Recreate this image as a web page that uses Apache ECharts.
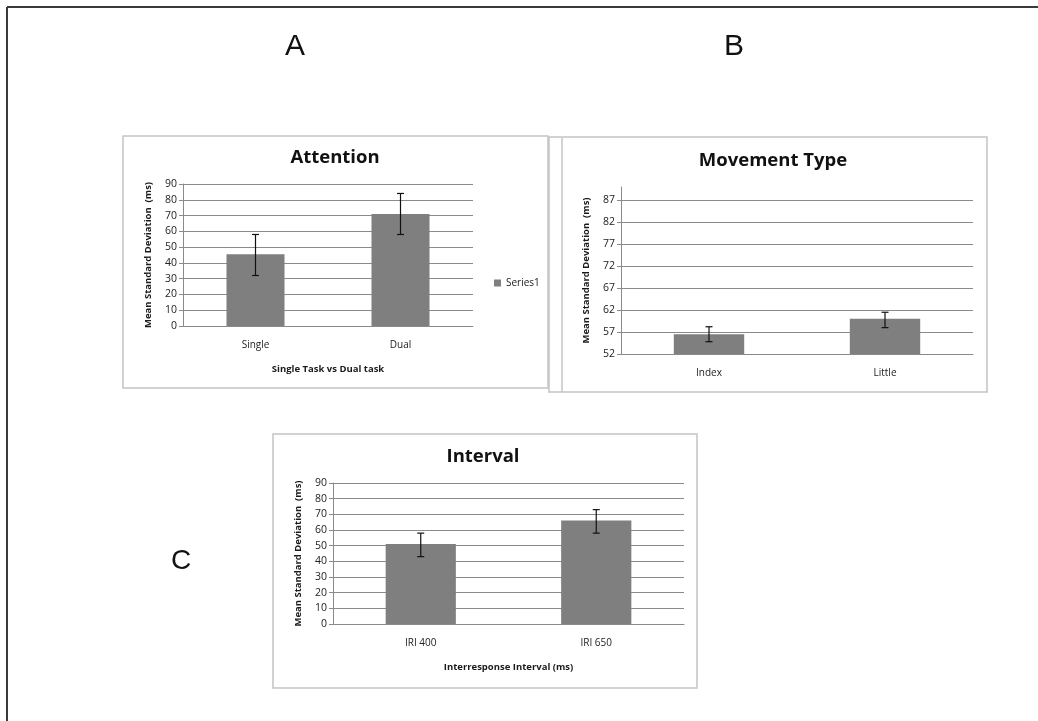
<!DOCTYPE html>
<html>
<head>
<meta charset="utf-8">
<script src="https://cdn.jsdelivr.net/npm/echarts@6/dist/echarts.min.js"></script>
<style>
  html, body { margin: 0; padding: 0; background: #fff; }
  #chart { width: 1038px; height: 721px; }
</style>
</head>
<body>
<div id="chart"></div>
<script>
// values
const attentionCats = ['Single', 'Dual'];
const attentionMeans = [45.5, 71];
const attentionLow = [32, 58];
const attentionHigh = [58, 84];

const movementCats = ['Index', 'Little'];
const movementMeans = [56.5, 60];
const movementLow = [54.8, 58];
const movementHigh = [58.2, 61.5];

const intervalCats = ['IRI 400', 'IRI 650'];
const intervalMeans = [51, 66];
const intervalLow = [43, 58];
const intervalHigh = [58, 73];

const FONT = 'Open Sans';
const GRID_COLOR = '#8a8a8a';
const BAR_COLOR = '#7f7f7f';
const BOX_COLOR = '#c4c4c4';

const chart = echarts.init(document.getElementById('chart'));

function errorBar(params, api) {
	const x = api.value(0);
	const lo = api.coord([x, api.value(1)]);
	const hi = api.coord([x, api.value(2)]);
	const cap = 3.5;
	const style = {stroke: '#111', lineWidth: 1.2};
	return {
		type: 'group',
		children: [
			{type: 'line', shape: {x1: lo[0], y1: lo[1], x2: hi[0], y2: hi[1]}, style},
			{type: 'line', shape: {x1: hi[0] - cap, y1: hi[1], x2: hi[0] + cap, y2: hi[1]}, style},
			{type: 'line', shape: {x1: lo[0] - cap, y1: lo[1], x2: lo[0] + cap, y2: lo[1]}, style}
		]
	};
}

function xAxisFor(gridIndex, cats, name) {
	return {
		type: 'category',
		gridIndex,
		data: cats,
		name: name || '',
		nameLocation: 'middle',
		nameGap: 38,
		nameTextStyle: {fontFamily: FONT, fontSize: 9.5, fontWeight: 'bold', color: '#1a1a1a'},
		axisLine: {lineStyle: {color: GRID_COLOR}},
		axisTick: {show: false},
		axisLabel: {fontFamily: FONT, fontSize: 10, color: '#222', margin: 14}
	};
}

function yAxisFor(gridIndex, min, max, interval) {
	// top of the axis is not always a tick (panel B)
	const topIsTick = max % interval === min % interval;
	return {
		type: 'value',
		gridIndex,
		min,
		max,
		interval,
		name: 'Mean Standard Deviation  (ms)',
		nameLocation: 'middle',
		nameGap: 30,
		nameTextStyle: {fontFamily: FONT, fontSize: 9.5, fontWeight: 'bold', color: '#1a1a1a'},
		axisLine: {show: true, lineStyle: {color: GRID_COLOR}},
		axisTick: {show: true, length: 4, lineStyle: {color: GRID_COLOR}},
		axisLabel: {fontFamily: FONT, fontSize: 10.5, color: '#222', margin: 6, showMaxLabel: topIsTick},
		splitLine: {show: true, showMaxLine: topIsTick, lineStyle: {color: GRID_COLOR, width: 1}}
	};
}

function barSeries(idx, values) {
	return {
		type: 'bar',
		name: 'Series1',
		xAxisIndex: idx,
		yAxisIndex: idx,
		data: values,
		barWidth: '40%',
		itemStyle: {color: BAR_COLOR},
		silent: true
	};
}

function errSeries(idx, low, high) {
	return {
		type: 'custom',
		xAxisIndex: idx,
		yAxisIndex: idx,
		renderItem: errorBar,
		encode: {x: 0, y: [1, 2]},
		data: low.map((l, i) => [i, l, high[i]]),
		z: 5,
		silent: true
	};
}

function label(text, x, y, size, bold) {
	return {
		type: 'text',
		x, y,
		style: {
			text,
			fontFamily: bold ? FONT : 'Liberation Sans',
			fontSize: size,
			fontWeight: bold ? 'bold' : 'normal',
			fill: '#111',
			textAlign: 'center',
			textVerticalAlign: 'middle'
		}
	};
}

function box(x, y, w, h) {
	return {
		type: 'rect',
		shape: {x, y, width: w, height: h},
		style: {fill: 'none', stroke: BOX_COLOR, lineWidth: 1.5},
		z: -1
	};
}

chart.setOption({
	animation: false,
	backgroundColor: '#fff',
	graphic: [
		{type: 'line', shape: {x1: 7, y1: 7, x2: 1038, y2: 7}, style: {stroke: '#3a3a3a', lineWidth: 2}},
		{type: 'line', shape: {x1: 7, y1: 7, x2: 7, y2: 721}, style: {stroke: '#3a3a3a', lineWidth: 2}},
		box(123, 136, 425, 252),
		box(549, 137, 438, 255),
		{type: 'line', shape: {x1: 562, y1: 138, x2: 562, y2: 392}, style: {stroke: BOX_COLOR, lineWidth: 1.5}},
		box(273, 434, 424, 254),
		label('A', 295, 47, 30, false),
		label('B', 734, 47, 30, false),
		label('C', 181, 561, 28, false),
		label('Attention', 335, 158, 18.5, true),
		label('Movement Type', 773, 161, 18.5, true),
		label('Interval', 483, 457, 18.5, true)
	],
	legend: {
		data: ['Series1'],
		left: 489,
		top: 273,
		itemWidth: 7,
		itemHeight: 7,
		icon: 'rect',
		itemGap: 4,
		textStyle: {fontFamily: FONT, fontSize: 10, color: '#222'}
	},
	grid: [
		{left: 183, top: 184, width: 290, height: 142},
		{left: 621, top: 187, width: 352, height: 167},
		{left: 333, top: 483, width: 351, height: 141}
	],
	xAxis: [
		xAxisFor(0, attentionCats, 'Single Task vs Dual task'),
		xAxisFor(1, movementCats, ''),
		xAxisFor(2, intervalCats, 'Interresponse Interval (ms)')
	],
	yAxis: [
		yAxisFor(0, 0, 90, 10),
		yAxisFor(1, 52, 90, 5),
		yAxisFor(2, 0, 90, 10)
	],
	series: [
		barSeries(0, attentionMeans),
		errSeries(0, attentionLow, attentionHigh),
		barSeries(1, movementMeans),
		errSeries(1, movementLow, movementHigh),
		barSeries(2, intervalMeans),
		errSeries(2, intervalLow, intervalHigh)
	]
});
</script>
</body>
</html>
